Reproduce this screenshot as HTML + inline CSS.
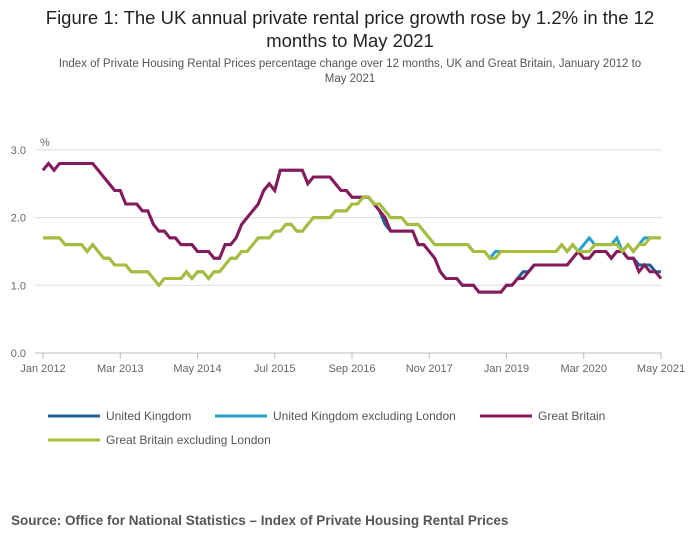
<!DOCTYPE html>
<html><head><meta charset="utf-8"><style>
body{margin:0;width:700px;height:549px;background:#fff;font-family:"Liberation Sans",sans-serif;overflow:hidden}
#title{position:absolute;left:30px;top:6px;width:640px;text-align:center;font-size:18.5px;line-height:23px;color:#222}
#sub{position:absolute;left:55px;top:57px;width:590px;text-align:center;font-size:11.5px;line-height:15px;color:#555}
#src{position:absolute;left:11px;top:513px;font-size:13.5px;font-weight:bold;color:#555}
svg{position:absolute;left:0;top:0}
</style></head><body>
<div id="title">Figure 1: The UK annual private rental price growth rose by 1.2% in the 12 months to May 2021</div>
<div id="sub">Index of Private Housing Rental Prices percentage change over 12 months, UK and Great Britain, January 2012 to May 2021</div>
<svg id="chart" width="700" height="549"></svg>
<div id="src">Source: Office for National Statistics – Index of Private Housing Rental Prices</div>
<script>
const xTickLabels=["Jan 2012","Mar 2013","May 2014","Jul 2015","Sep 2016","Nov 2017","Jan 2019","Mar 2020","May 2021"];
const xTickMonths=[0,14,28,42,56,70,84,98,112];
const yTicks=[0,1,2,3];
const seriesNames=["United Kingdom","United Kingdom excluding London","Great Britain","Great Britain excluding London"];
const seriesColors=["#206095","#27a0cc","#871a5b","#a8bd3a"];
const gb=[2.7,2.8,2.7,2.8,2.8,2.8,2.8,2.8,2.8,2.8,2.7,2.6,2.5,2.4,2.4,2.2,2.2,2.2,2.1,2.1,1.9,1.8,1.8,1.7,1.7,1.6,1.6,1.6,1.5,1.5,1.5,1.4,1.4,1.6,1.6,1.7,1.9,2.0,2.1,2.2,2.4,2.5,2.4,2.7,2.7,2.7,2.7,2.7,2.5,2.6,2.6,2.6,2.6,2.5,2.4,2.4,2.3,2.3,2.3,2.3,2.2,2.1,2.0,1.8,1.8,1.8,1.8,1.8,1.6,1.6,1.5,1.4,1.2,1.1,1.1,1.1,1.0,1.0,1.0,0.9,0.9,0.9,0.9,0.9,1.0,1.0,1.1,1.1,1.2,1.3,1.3,1.3,1.3,1.3,1.3,1.3,1.4,1.5,1.4,1.4,1.5,1.5,1.5,1.4,1.5,1.5,1.4,1.4,1.2,1.3,1.2,1.2,1.1];
const uk=[2.7,2.8,2.7,2.8,2.8,2.8,2.8,2.8,2.8,2.8,2.7,2.6,2.5,2.4,2.4,2.2,2.2,2.2,2.1,2.1,1.9,1.8,1.8,1.7,1.7,1.6,1.6,1.6,1.5,1.5,1.5,1.4,1.4,1.6,1.6,1.7,1.9,2.0,2.1,2.2,2.4,2.5,2.4,2.7,2.7,2.7,2.7,2.7,2.5,2.6,2.6,2.6,2.6,2.5,2.4,2.4,2.3,2.3,2.3,2.3,2.2,2.1,1.9,1.8,1.8,1.8,1.8,1.8,1.6,1.6,1.5,1.4,1.2,1.1,1.1,1.1,1.0,1.0,1.0,0.9,0.9,0.9,0.9,0.9,1.0,1.0,1.1,1.2,1.2,1.3,1.3,1.3,1.3,1.3,1.3,1.3,1.4,1.5,1.4,1.4,1.5,1.5,1.5,1.4,1.5,1.5,1.4,1.4,1.3,1.3,1.3,1.2,1.2];
const gbx=[1.7,1.7,1.7,1.7,1.6,1.6,1.6,1.6,1.5,1.6,1.5,1.4,1.4,1.3,1.3,1.3,1.2,1.2,1.2,1.2,1.1,1.0,1.1,1.1,1.1,1.1,1.2,1.1,1.2,1.2,1.1,1.2,1.2,1.3,1.4,1.4,1.5,1.5,1.6,1.7,1.7,1.7,1.8,1.8,1.9,1.9,1.8,1.8,1.9,2.0,2.0,2.0,2.0,2.1,2.1,2.1,2.2,2.2,2.3,2.3,2.2,2.2,2.1,2.0,2.0,2.0,1.9,1.9,1.9,1.8,1.7,1.6,1.6,1.6,1.6,1.6,1.6,1.6,1.5,1.5,1.5,1.4,1.4,1.5,1.5,1.5,1.5,1.5,1.5,1.5,1.5,1.5,1.5,1.5,1.6,1.5,1.6,1.5,1.5,1.5,1.6,1.6,1.6,1.6,1.6,1.5,1.6,1.5,1.6,1.6,1.7,1.7,1.7];
const ukx=[1.7,1.7,1.7,1.7,1.6,1.6,1.6,1.6,1.5,1.6,1.5,1.4,1.4,1.3,1.3,1.3,1.2,1.2,1.2,1.2,1.1,1.0,1.1,1.1,1.1,1.1,1.2,1.1,1.2,1.2,1.1,1.2,1.2,1.3,1.4,1.4,1.5,1.5,1.6,1.7,1.7,1.7,1.8,1.8,1.9,1.9,1.8,1.8,1.9,2.0,2.0,2.0,2.0,2.1,2.1,2.1,2.2,2.2,2.3,2.3,2.2,2.2,2.1,2.0,2.0,2.0,1.9,1.9,1.9,1.8,1.7,1.6,1.6,1.6,1.6,1.6,1.6,1.6,1.5,1.5,1.5,1.4,1.5,1.5,1.5,1.5,1.5,1.5,1.5,1.5,1.5,1.5,1.5,1.5,1.6,1.5,1.6,1.5,1.6,1.7,1.6,1.6,1.6,1.6,1.7,1.5,1.6,1.5,1.6,1.7,1.7,1.7,1.7];
const series=[uk,ukx,gb,gbx];
const NS="http://www.w3.org/2000/svg";
const svg=document.getElementById('chart');
const X=i=>43+i*(618/112);
const Y=v=>353-v*67.7;
function mk(t,a){const e=document.createElementNS(NS,t);for(const k in a)e.setAttribute(k,a[k]);svg.appendChild(e);return e;}
yTicks.forEach(v=>{
 const l=mk('line',{x1:35,x2:662,y1:Y(v),y2:Y(v),stroke:v===0?'#bbb':'#ddd','stroke-width':1});
 
 
 const t=mk('text',{x:26,y:Y(v)+4,'font-size':11,fill:'#666','text-anchor':'end'});t.textContent=v.toFixed(1);
 
 
});
const pct=mk('text',{x:40,y:146,'font-size':11,fill:'#666'});pct.textContent='%';


xTickMonths.forEach((m,k)=>{
 const l=mk('line',{x1:X(m),x2:X(m),y1:353,y2:359,stroke:'#bbb'});
 
 
 const t=mk('text',{x:X(m),y:372,'font-size':11,fill:'#666','text-anchor':'middle'});t.textContent=xTickLabels[k];
 
 
});
series.forEach((s,k)=>{
 const p=mk('polyline',{points:s.map((v,i)=>X(i)+','+Y(v)).join(' '),fill:'none',stroke:seriesColors[k],'stroke-width':3,'stroke-linejoin':'miter'});
 
 
});
const legPos=[[48,416],[215,416],[480,416],[48,440]];
seriesNames.forEach((n,k)=>{
 const [x,y]=legPos[k];
 const l=mk('line',{x1:x,x2:x+52,y1:y,y2:y,stroke:seriesColors[k],'stroke-width':3});
 
 
 const t=mk('text',{x:x+58,y:y+4,'font-size':12,fill:'#555'});t.textContent=n;
 
 
});
</script>
</body></html>
